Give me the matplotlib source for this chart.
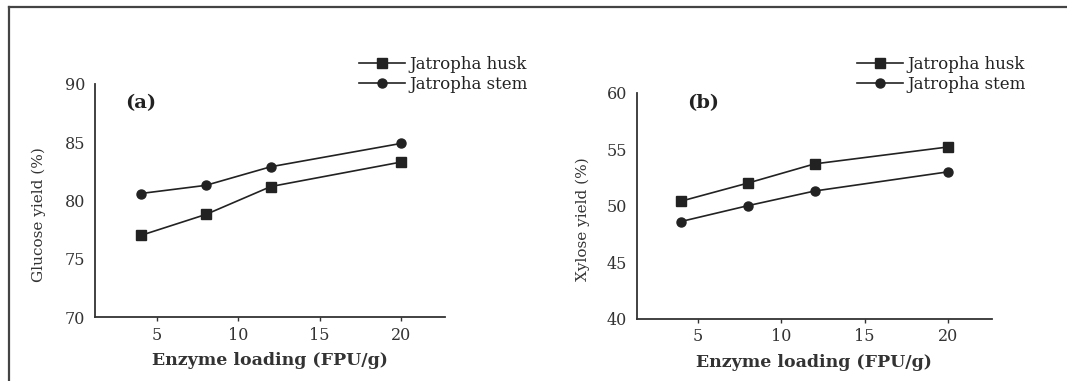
import matplotlib
matplotlib.use("Agg")
import matplotlib.pyplot as plt
from matplotlib.lines import Line2D

# enzyme loading (FPU/g)
carga = [4, 8, 12, 20]

# glucose yield (%)
glucosa_husk = [77.0, 78.8, 81.2, 83.3]
glucosa_stem = [80.6, 81.3, 82.9, 84.9]

# xylose yield (%)
xilosa_husk = [50.4, 52.0, 53.7, 55.2]
xilosa_stem = [48.6, 50.0, 51.3, 53.0]

etiquetas = ["Jatropha husk", "Jatropha stem"]
color = "#222222"

plt.rcParams["font.family"] = ["DejaVu Serif"]

fig = plt.figure(figsize=(10.67, 3.81), dpi=100)

# marco de la figura (arriba e izquierda)
fig.add_artist(Line2D([8.5 / 1067, 1.0], [1 - 6.5 / 381, 1 - 6.5 / 381],
                      transform=fig.transFigure, color="#444444", lw=1.6))
fig.add_artist(Line2D([8.5 / 1067, 8.5 / 1067], [0.0, 1 - 6.5 / 381],
                      transform=fig.transFigure, color="#444444", lw=1.6))

ax_a = fig.add_axes([95 / 1067, 64 / 381, 350 / 1067, 233 / 381])
ax_b = fig.add_axes([636.7 / 1067, 62.3 / 381, 355 / 1067, 226 / 381])


def graficar(ax, husk, stem, ylim, yticks, ylabel, letra, pos_letra, xlim, leg_x, ylab_x):
    ax.plot(carga, husk, color=color, lw=1.2, marker="s", ms=6.5, label=etiquetas[0])
    ax.plot(carga, stem, color=color, lw=1.2, marker="o", ms=6.5, label=etiquetas[1])
    ax.set_xlim(*xlim)
    ax.set_ylim(*ylim)
    ax.set_xticks([5, 10, 15, 20])
    ax.set_yticks(yticks)
    for s in ["top", "right"]:
        ax.spines[s].set_visible(False)
    for s in ["left", "bottom"]:
        ax.spines[s].set_color("#333333")
        ax.spines[s].set_linewidth(1.3)
    ax.tick_params(axis="x", length=3, width=1, pad=4, labelsize=11.5, colors="#333333")
    ax.tick_params(axis="y", length=0, pad=7, labelsize=11.5, colors="#333333")
    ax.set_xlabel("Enzyme loading (FPU/g)", fontsize=12.5, fontweight="bold",
                  color="#333333", labelpad=6)
    ax.set_ylabel(ylabel, fontsize=11, color="#333333")
    ax.yaxis.set_label_coords(ylab_x, 0.44)
    ax.text(pos_letra[0], pos_letra[1], letra, transform=ax.transAxes, fontsize=14,
            fontweight="bold", ha="left", va="center", color="#222222")
    ax.legend(loc="upper left", bbox_to_anchor=(leg_x, 1 - 56 / 381),
              bbox_transform=fig.transFigure, frameon=False, fontsize=12,
              borderpad=0, borderaxespad=0, handlelength=2.75,
              handletextpad=0.3, labelspacing=0.2, labelcolor="#222222")


graficar(ax_a, glucosa_husk, glucosa_stem, (70, 90), [70, 75, 80, 85, 90],
         "Glucose yield (%)", "(a)", (0.086, 0.92), (1.19, 22.7), 359 / 1067, -0.14)
graficar(ax_b, xilosa_husk, xilosa_stem, (40, 60), [40, 45, 50, 55, 60],
         "Xylose yield (%)", "(b)", (0.141, 0.956), (1.35, 22.6), 856.7 / 1067, -0.132)

fig.savefig("out.png", dpi=100)
